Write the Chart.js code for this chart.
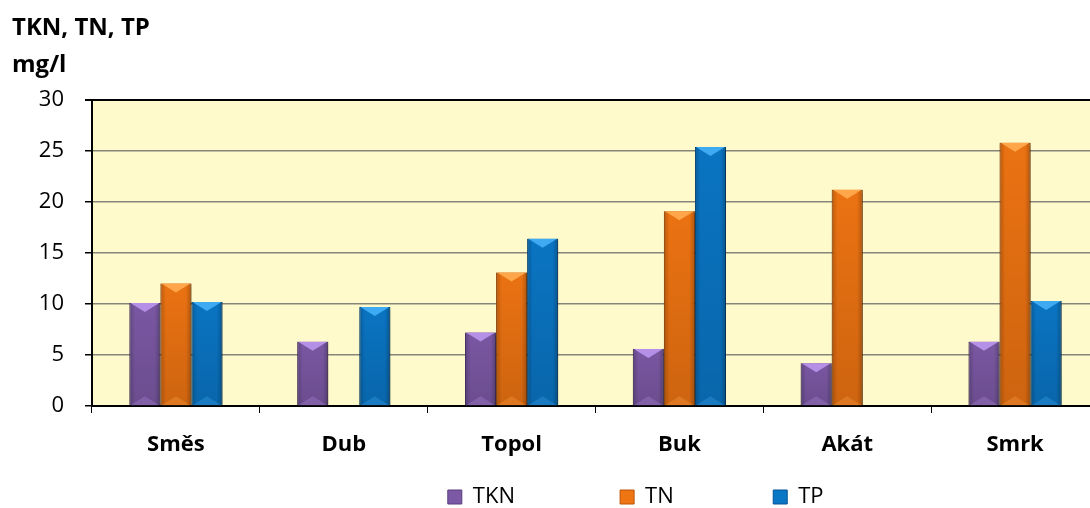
<!DOCTYPE html>
<html>
<head>
<meta charset="utf-8">
<script src="https://cdn.jsdelivr.net/npm/chart.js@4"></script>
<style>
  html, body { margin: 0; background: #fff; overflow: hidden; }
  /* the original plot runs a little past the right edge of the picture */
  #wrap { width: 1099px; height: 508px; }
</style>
</head>
<body>
<div id="wrap"><canvas id="chart"></canvas></div>
<script>
const categories = ['Směs', 'Dub', 'Topol', 'Buk', 'Akát', 'Smrk'];
const tknValues = [10.1, 6.3, 7.2, 5.6, 4.2, 6.3];
const tnValues = [12.0, null, 13.1, 19.1, 21.2, 25.8];
const tpValues = [10.2, 9.7, 16.4, 25.4, null, 10.3];
const yTicks = [0, 5, 10, 15, 20, 25, 30];

const FONT = "'Open Sans', 'DejaVu Sans', sans-serif";

// plot area fill
const plotBg = {
    id: 'plotBg',
    beforeDraw(chart) {
        const { ctx, chartArea: a } = chart;
        ctx.save();
        ctx.fillStyle = '#fefacb';
        ctx.fillRect(a.left, a.top, a.right - a.left, a.bottom - a.top);
        ctx.restore();
    }
};

// soft shadow + bevel on each bar
const bevel = {
    id: 'bevel',
    beforeDatasetDraw(chart) {
        const ctx = chart.ctx;
        ctx.save();
        ctx.shadowColor = 'rgba(0,0,0,0.3)';
        ctx.shadowOffsetX = 2;
        ctx.shadowOffsetY = 1;
        ctx.shadowBlur = 3;
    },
    afterDatasetDraw(chart, args) {
        const ctx = chart.ctx;
        ctx.restore();
        const ds = chart.data.datasets[args.index];
        args.meta.data.forEach((bar, j) => {
            if (ds.data[j] == null) return;
            const { x, y, base, width } = bar;
            const l = x - width / 2, r = x + width / 2, h = base - y;
            const b = Math.min(9, h / 2);
            ctx.save();
            const gh = ctx.createLinearGradient(l, 0, r, 0);
            gh.addColorStop(0, 'rgba(0,0,0,0.22)');
            gh.addColorStop(0.18, 'rgba(0,0,0,0.02)');
            gh.addColorStop(0.82, 'rgba(0,0,0,0.02)');
            gh.addColorStop(1, 'rgba(0,0,0,0.25)');
            ctx.fillStyle = gh;
            ctx.fillRect(l, y, width, h);
            const gv = ctx.createLinearGradient(0, y, 0, base);
            gv.addColorStop(0, 'rgba(0,0,0,0)');
            gv.addColorStop(1, 'rgba(0,0,0,0.12)');
            ctx.fillStyle = gv;
            ctx.fillRect(l, y, width, h);
            // top facet
            ctx.fillStyle = ds.lightColor;
            ctx.beginPath();
            ctx.moveTo(l + 1, y);
            ctx.lineTo(r - 1, y);
            ctx.lineTo(x, y + b);
            ctx.closePath();
            ctx.fill();
            // bottom facet
            ctx.globalAlpha = 0.3;
            ctx.beginPath();
            ctx.moveTo(l + 1, base);
            ctx.lineTo(r - 1, base);
            ctx.lineTo(x, base - b);
            ctx.closePath();
            ctx.fill();
            ctx.restore();
        });
    }
};

// trailing gaps so the legend entries sit where the original has them
const em = '\u2003';
const legendGaps = [em.repeat(4) + '   ', em.repeat(4) + '  ', em.repeat(12) + '  '];

new Chart(document.getElementById('chart'), {
    type: 'bar',
    data: {
        labels: categories,
        datasets: [
            { label: 'TKN', data: tknValues, backgroundColor: '#7c59a5', borderColor: '#5a3d80', lightColor: '#b68fe6' },
            { label: 'TN', data: tnValues, backgroundColor: '#ef7412', borderColor: '#b85508', lightColor: '#ffa54a' },
            { label: 'TP', data: tpValues, backgroundColor: '#0a76c6', borderColor: '#065494', lightColor: '#3eaaf2' }
        ]
    },
    options: {
        responsive: true,
        maintainAspectRatio: false,
        animation: false,
        layout: { padding: { left: 12, right: 0, top: 0, bottom: -10 } },
        datasets: {
            bar: { barPercentage: 1, categoryPercentage: 0.555, borderWidth: 1, borderSkipped: 'start' }
        },
        plugins: {
            title: {
                display: true,
                text: ['TKN, TN, TP', 'mg/l'],
                align: 'start',
                color: '#000',
                font: { family: FONT, size: 24, weight: 'bold', lineHeight: 37 / 24 },
                padding: { top: 10, bottom: 16 }
            },
            legend: {
                position: 'bottom',
                align: 'end',
                labels: {
                    color: '#000',
                    font: { family: FONT, size: 22 },
                    boxWidth: 14,
                    boxHeight: 14,
                    padding: 0,
                    generateLabels: chart => {
                        const items = Chart.defaults.plugins.legend.labels.generateLabels(chart);
                        return items.map((it, i) => Object.assign(it, { text: it.text + legendGaps[i] }));
                    }
                }
            },
            tooltip: { enabled: false }
        },
        scales: {
            x: {
                grid: { drawOnChartArea: false, offset: true, tickLength: 7, color: '#000', tickColor: '#000' },
                border: { color: '#000', width: 2 },
                ticks: { color: '#000', padding: 19, font: { family: FONT, size: 22, weight: 'bold' } },
                afterFit: s => { s.height = 80; }
            },
            y: {
                min: 0,
                max: 30,
                afterBuildTicks: s => { s.ticks = yTicks.map(v => ({ value: v })); },
                grid: {
                    color: c => (c.tick && c.tick.value === 30 ? '#000' : '#85857c'),
                    lineWidth: c => (c.tick && c.tick.value === 30 ? 2 : 1.5),
                    tickLength: 7,
                    tickColor: '#000'
                },
                border: { color: '#000', width: 2 },
                ticks: { color: '#000', padding: 21, font: { family: FONT, size: 22 } },
                afterFit: s => { s.width = 80; }
            }
        }
    },
    plugins: [plotBg, bevel]
});
</script>
</body>
</html>
